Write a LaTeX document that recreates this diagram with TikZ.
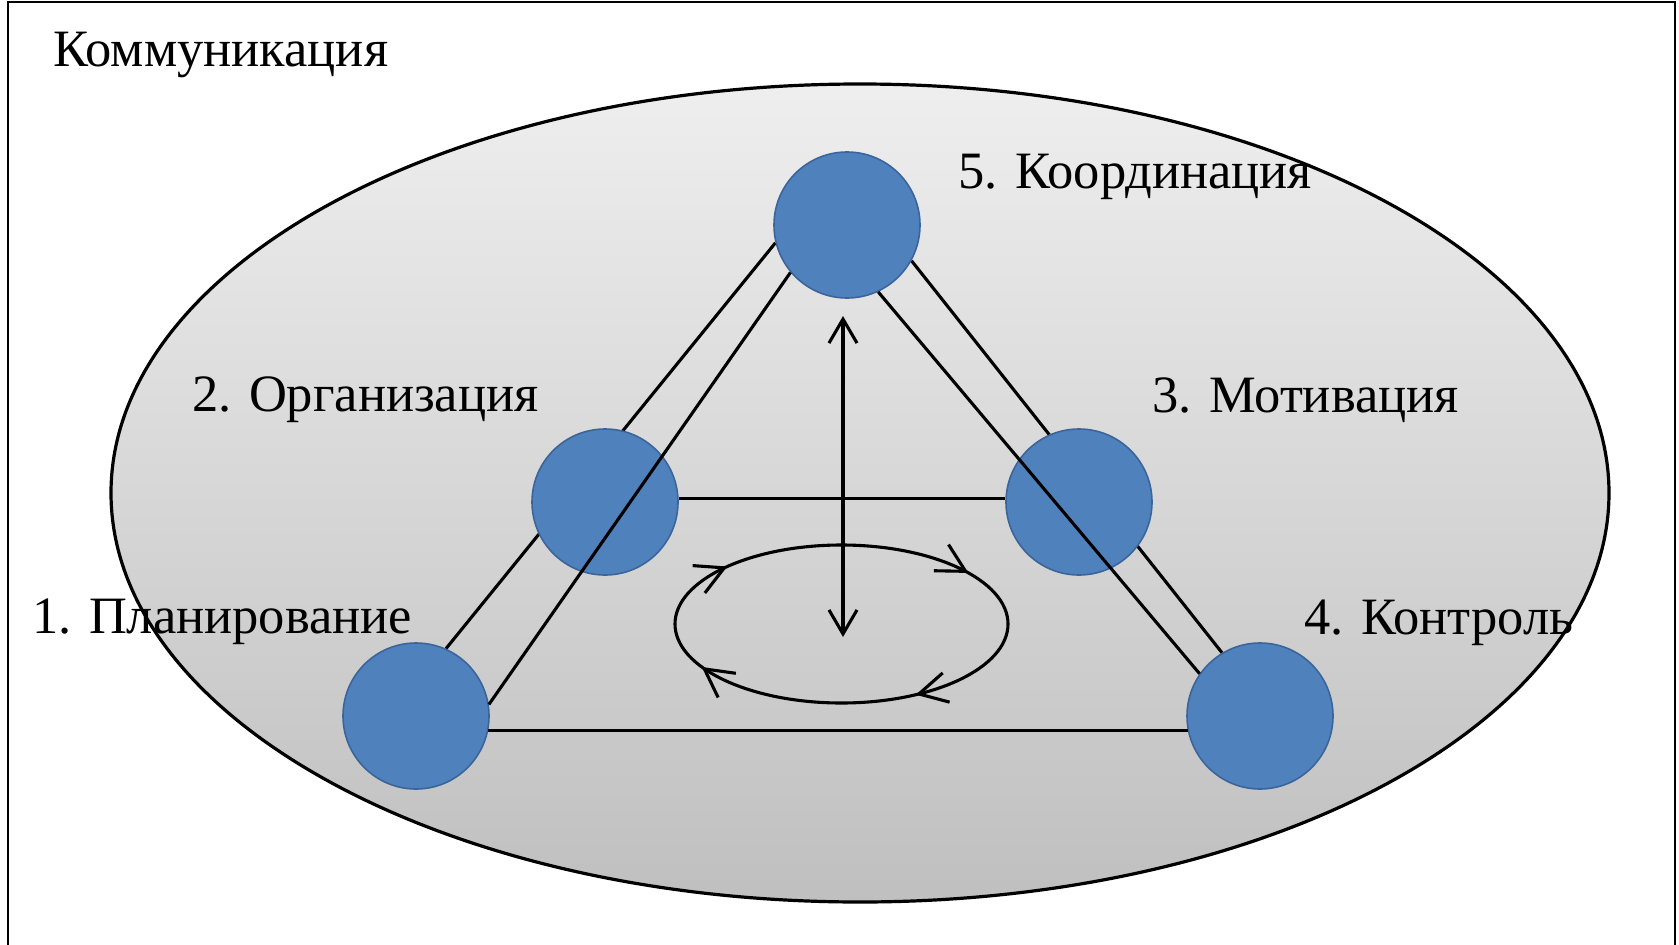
\documentclass[tikz,border=0pt]{standalone}
\usepackage{fontspec}
\setmainfont{Liberation Serif}
\usetikzlibrary{arrows.meta,decorations.markings}
\definecolor{nodeblue}{HTML}{4F81BD}
\definecolor{nodeedge}{HTML}{3B659A}
\tikzset{
  stage/.style={circle, minimum size=146pt, inner sep=0pt, fill=nodeblue, draw=nodeedge, line width=1.6pt},
  link/.style={line width=3.1pt, black},
  lbl/.style={anchor=base west, inner sep=0pt, font=\fontsize{52.5}{62}\selectfont},
  barb/.tip={Straight Barb[length=24pt,width=28pt]},
  cbarb/.tip={Straight Barb[length=28pt,width=30pt]}
}
\begin{document}
\begin{tikzpicture}[x=1pt,y=-1pt]
\useasboundingbox (0,0) rectangle (1679,945);
\fill[white] (0,0) rectangle (1679,945);
% frame (no bottom edge visible)
\draw[line width=2.4pt] (8,960) -- (8,2) -- (1675,2) -- (1675,960);
% big ellipse
\draw[line width=3.2pt, top color=gray!13, bottom color=gray!50] (860,493) ellipse [x radius=749, y radius=409];
% circles (placed first, drawn after the rear lines)
\path (847,225) node[stage, fill=none, draw=none] (c5) {}
      (605,502) node[stage, fill=none, draw=none] (c2) {}
      (1079,502) node[stage, fill=none, draw=none] (c3) {}
      (416,716) node[stage, fill=none, draw=none] (c1) {}
      (1260,716) node[stage, fill=none, draw=none] (c4) {};
% rear (outer) lines
\draw[link] (c5.194) -- (c1.66);
\draw[link] (c5.331) -- (c4.121);
% the circles themselves
\node[stage] at (c5) {};
\node[stage] at (c2) {};
\node[stage] at (c3) {};
\node[stage] at (c1) {};
\node[stage] at (c4) {};
% front (inner) lines
\draw[link] (c5.220) -- (c1.9);
\draw[link] (c5.295) -- (c4.145);
\draw[link] (c2.3) -- (c3.177);
\draw[link] (c1.349) -- (c4.191);
% vertical double arrow
\coordinate (vtop) at (843,316);
\coordinate (vbot) at (843,637);
\draw[link, {barb}-{barb}] (vtop) -- (vbot);
% cycle ellipse with arrows
\draw[link, postaction={decorate}, decoration={markings,
   mark=at position 0.156 with {\arrow{cbarb}},
   mark=at position 0.434 with {\arrow{cbarb}},
   mark=at position 0.603 with {\arrow{cbarb}},
   mark=at position 0.915 with {\arrow{cbarb}}}]
   (841.5,624) ellipse [x radius=166.5, y radius=79];
% labels
\node[lbl] (tcomm) at (53,66) {Коммуникация};
\node[lbl] (t5) at (958,188) {5. Координация};
\node[lbl] (t2) at (192,411) {2. Организация};
\node[lbl] (t3) at (1152,412) {3. Мотивация};
\node[lbl] (t1) at (32,633) {1. Планирование};
\node[lbl] (t4) at (1304,634) {4. Контроль};
\end{tikzpicture}
\end{document}
